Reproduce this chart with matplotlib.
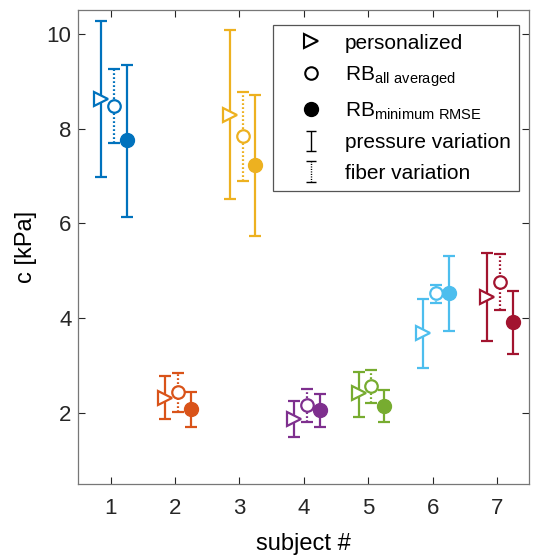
#! /usr/bin/env python
"""Stiffness parameter c per subject, three estimation methods."""

import matplotlib
matplotlib.use('Agg')
import matplotlib.pyplot as plt
import numpy as np
from matplotlib.lines import Line2D

plt.rcParams['font.family'] = ['Liberation Sans', 'DejaVu Sans']
plt.rcParams['mathtext.fontset'] = 'custom'
plt.rcParams['mathtext.rm'] = 'Liberation Sans'

subjects = [1, 2, 3, 4, 5, 6, 7]
colors = ['#0072BD', '#D95319', '#EDB120', '#7E2F8E', '#77AC30',
          '#4DBEEE', '#A2142F']

# personalized fit, pressure variation range
pers = [8.62, 2.31, 8.29, 1.87, 2.41, 3.68, 4.45]
pers_lo = [6.98, 1.87, 6.52, 1.49, 1.91, 2.95, 3.52]
pers_hi = [10.27, 2.77, 10.07, 2.25, 2.86, 4.40, 5.38]

# rule based, all averaged, fiber variation range
avg = [8.47, 2.45, 7.84, 2.17, 2.57, 4.52, 4.77]
avg_lo = [7.70, 2.03, 6.90, 1.80, 2.20, 4.32, 4.18]
avg_hi = [9.26, 2.85, 8.78, 2.51, 2.91, 4.70, 5.36]

# rule based, minimum RMSE, pressure variation range
rmse = [7.75, 2.08, 7.23, 2.06, 2.15, 4.52, 3.92]
rmse_lo = [6.14, 1.70, 5.73, 1.71, 1.81, 3.73, 3.24]
rmse_hi = [9.35, 2.45, 8.70, 2.39, 2.48, 5.31, 4.57]

fig = plt.figure(figsize=(5.33, 5.57), dpi=100)
ax = fig.add_axes([0.147, 0.131, 0.846, 0.851])

lw = 1.6
cap = 4.2
dots = (0, (0.8, 1.0))
for i, s in enumerate(subjects):
    c = colors[i]
    ax.errorbar(s - 0.15, pers[i],
                yerr=[[pers[i] - pers_lo[i]], [pers_hi[i] - pers[i]]],
                fmt='>', color=c, mfc='white', mec=c, mew=1.6, ms=10,
                elinewidth=lw, capsize=cap, capthick=lw)
    eb = ax.errorbar(s + 0.05, avg[i],
                     yerr=[[avg[i] - avg_lo[i]], [avg_hi[i] - avg[i]]],
                     fmt='o', color=c, mfc='white', mec=c, mew=1.6, ms=9,
                     elinewidth=lw, capsize=cap, capthick=lw)
    eb[2][0].set_linestyle(dots)
    ax.errorbar(s + 0.25, rmse[i],
                yerr=[[rmse[i] - rmse_lo[i]], [rmse_hi[i] - rmse[i]]],
                fmt='o', color=c, mfc=c, mec=c, ms=10,
                elinewidth=lw, capsize=cap, capthick=lw)

ax.set_xlim(0.5, 7.5)
ax.set_ylim(0.5, 10.5)
ax.set_xticks(subjects)
ax.set_yticks([2, 4, 6, 8, 10])
ax.tick_params(direction='in', length=5, width=0.8, top=True, right=True,
               labelsize=16, colors='#262626')
ax.tick_params(axis='x', pad=10)
ax.tick_params(axis='y', pad=5)
for sp in ax.spines.values():
    sp.set_color('#777777')
    sp.set_linewidth(0.9)
ax.set_xlabel('subject #', fontsize=17, labelpad=10)
ax.set_ylabel('c [kPa]', fontsize=17, labelpad=7)

# legend handles (black)
h_pers = Line2D([], [], ls='none', marker='>', mfc='white', mec='black',
                mew=1.5, ms=10)
h_avg = Line2D([], [], ls='none', marker='o', mfc='white', mec='black',
               mew=1.5, ms=9)
h_rmse = Line2D([], [], ls='none', marker='o', color='black', ms=10)
h_pv = ax.errorbar([np.nan], [np.nan], yerr=[1], fmt='none', ecolor='black',
                   elinewidth=1.0, capsize=3.5, capthick=1.0)
h_fv = ax.errorbar([np.nan], [np.nan], yerr=[1], fmt='none', ecolor='black',
                   elinewidth=1.0, capsize=3.5, capthick=1.0)
h_fv[2][0].set_linestyle(dots)

leg = ax.legend([h_pers, h_avg, h_rmse, h_pv, h_fv],
                ['personalized', r'RB$_{\mathregular{all\ averaged}}$',
                 r'RB$_{\mathregular{minimum\ RMSE}}$',
                 'pressure variation', 'fiber variation'],
                loc='upper right', bbox_to_anchor=(0.978, 0.968),
                borderaxespad=0, fontsize=15, fancybox=False, framealpha=1,
                edgecolor='#555555', labelspacing=0.55, handlelength=2.8,
                handletextpad=0.25, borderpad=0.4)
leg.get_frame().set_linewidth(0.9)

fig.savefig('out.png', dpi=100)
